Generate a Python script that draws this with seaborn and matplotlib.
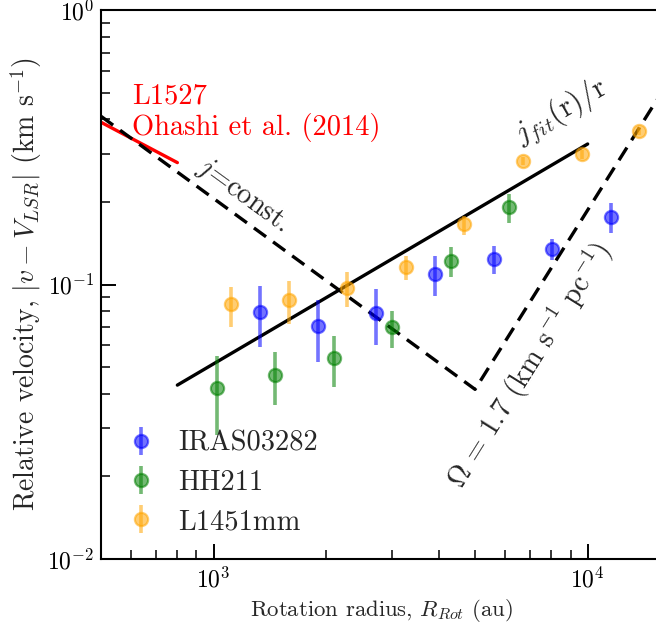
import numpy as np
import pandas as pd
import matplotlib
matplotlib.use("Agg")
import matplotlib.pyplot as plt
import seaborn as sns

# ---------------- data ----------------
iras_r = [1329, 1897, 2717, 3906, 5617, 8025, 11540]
iras_v = [0.0792, 0.0704, 0.0785, 0.1092, 0.1238, 0.1346, 0.1762]
iras_lo = [0.0593, 0.0523, 0.0602, 0.0908, 0.1092, 0.1229, 0.1540]
iras_hi = [0.0988, 0.0878, 0.0963, 0.1270, 0.1380, 0.1464, 0.1981]

hh_r = [1019, 1461, 2098, 3002, 4302, 6171]
hh_v = [0.0418, 0.0468, 0.0538, 0.0698, 0.1221, 0.1911]
hh_lo = [0.0283, 0.0364, 0.0422, 0.0588, 0.1068, 0.1679]
hh_hi = [0.0549, 0.0569, 0.0649, 0.0803, 0.1366, 0.2137]

l1451_r = [1110, 1590, 2276, 3268, 4677, 6703, 9638, 13740]
l1451_v = [0.0847, 0.0878, 0.0973, 0.1161, 0.1661, 0.2818, 0.2988, 0.3624]
l1451_lo = [0.0702, 0.0718, 0.0830, 0.1038, 0.1515, 0.2732, 0.2872, 0.3505]
l1451_hi = [0.0982, 0.1030, 0.1108, 0.1273, 0.1777, 0.2906, 0.3090, 0.3738]

series_names = ["IRAS03282", "HH211", "L1451mm"]
series_colors = ["blue", "green", "orange"]

# model lines
jfit_r = [800, 10000]
jfit_v = [0.043, 0.325]
model_r = [500, 5000, 20000]          # j = const. then Omega branch
model_v = [0.41, 0.0415, 0.84]
l1527_r = [500, 800]
l1527_v = [0.39, 0.278]

l1527_label = ["L1527", "Ohashi et al. (2014)"]
xtick_vals = [1e3, 1e4]
xtick_labels = [r"$10^3$", r"$10^4$"]
ytick_vals = [1e-2, 1e-1, 1e0]
ytick_labels = [r"$10^{-2}$", r"$10^{-1}$", r"$10^0$"]

# ---------------- style ----------------
sns.set_theme(style="ticks")
plt.rcParams.update({
    "font.family": ["cmr10", "DejaVu Serif"],
    "mathtext.fontset": "cm",
    "axes.formatter.use_mathtext": True,
    "axes.unicode_minus": False,
    "axes.linewidth": 1.5,
    "axes.edgecolor": "black",
    "xtick.direction": "in",
    "ytick.direction": "in",
    "xtick.major.size": 11, "xtick.minor.size": 6.5,
    "ytick.major.size": 11, "ytick.minor.size": 6.5,
    "xtick.major.width": 1.4, "xtick.minor.width": 1.1,
    "ytick.major.width": 1.4, "ytick.minor.width": 1.1,
    "xtick.color": "black", "ytick.color": "black",
})

fig = plt.figure(figsize=(6.56, 6.24), dpi=100)
ax = fig.add_axes([101 / 656, 65 / 624, 562 / 656, 549 / 624])
ax.set_xscale("log")
ax.set_yscale("log")

# model lines via seaborn
sns.lineplot(x=l1527_r, y=l1527_v, ax=ax, color="red", lw=2.4, sort=False,
             estimator=None, legend=False)
sns.lineplot(x=model_r, y=model_v, ax=ax, color="black", lw=2.4, sort=False,
             estimator=None, legend=False, linestyle=(0, (4.5, 2.6)))
sns.lineplot(x=jfit_r, y=jfit_v, ax=ax, color="black", lw=2.4, sort=False,
             estimator=None, legend=False)

# data with error bars
all_r = [iras_r, hh_r, l1451_r]
all_v = [iras_v, hh_v, l1451_v]
all_lo = [iras_lo, hh_lo, l1451_lo]
all_hi = [iras_hi, hh_hi, l1451_hi]
for name, col, r, v, lo, hi in zip(series_names, series_colors, all_r, all_v, all_lo, all_hi):
    v = np.array(v); lo = np.array(lo); hi = np.array(hi)
    ax.errorbar(r, v, yerr=[v - lo, hi - v], fmt="o", color=col, ms=9.5,
                mew=1.6, elinewidth=2.6, capsize=0, alpha=0.55, label=name)

ax.set_xlim(500, 15900)
ax.set_ylim(1e-2, 1e0)
ax.set_xticks(xtick_vals)
ax.set_xticklabels(xtick_labels, fontsize=17)
ax.set_yticks(ytick_vals)
ax.set_yticklabels(ytick_labels, fontsize=17)
ax.tick_params(axis="x", which="both", top=False, pad=6)
ax.tick_params(axis="y", which="both", right=False, pad=5)
ax.spines["right"].set_visible(False)
ax.spines["top"].set_visible(True)

ax.set_xlabel(r"Rotation radius, $R_{Rot}$ (au)", fontsize=16.4, labelpad=3)
ax.set_ylabel(r"Relative velocity, $|v - V_{LSR}|$ (km s$^{-1}$)", fontsize=20,
              labelpad=2)

# annotations
ax.text(604, 0.457, l1527_label[0], color="red", fontsize=20.5, ha="left", va="baseline")
ax.text(604, 0.3504, l1527_label[1], color="red", fontsize=20.5, ha="left", va="baseline")
ax.text(1198, 0.212, r"$j$=const.", fontsize=20.5, rotation=-36, ha="center",
        va="center", rotation_mode="anchor")
ax.text(8500, 0.425, r"$j_{fit}$(r)/r", fontsize=21.5, rotation=30, ha="center",
        va="center", rotation_mode="anchor")
ax.text(7008, 0.0509, r"$\Omega$ = 1.7 (km s$^{-1}$ pc$^{-1}$)", fontsize=20.5,
        rotation=58, ha="center", va="center", rotation_mode="anchor")

leg = ax.legend(loc="lower left", bbox_to_anchor=(26.2 / 562, 0.0437), frameon=False,
                fontsize=20.5, handlelength=1.0, handletextpad=0.8,
                labelspacing=0.45, borderpad=0, borderaxespad=0)

fig.savefig("out.png", dpi=100)
